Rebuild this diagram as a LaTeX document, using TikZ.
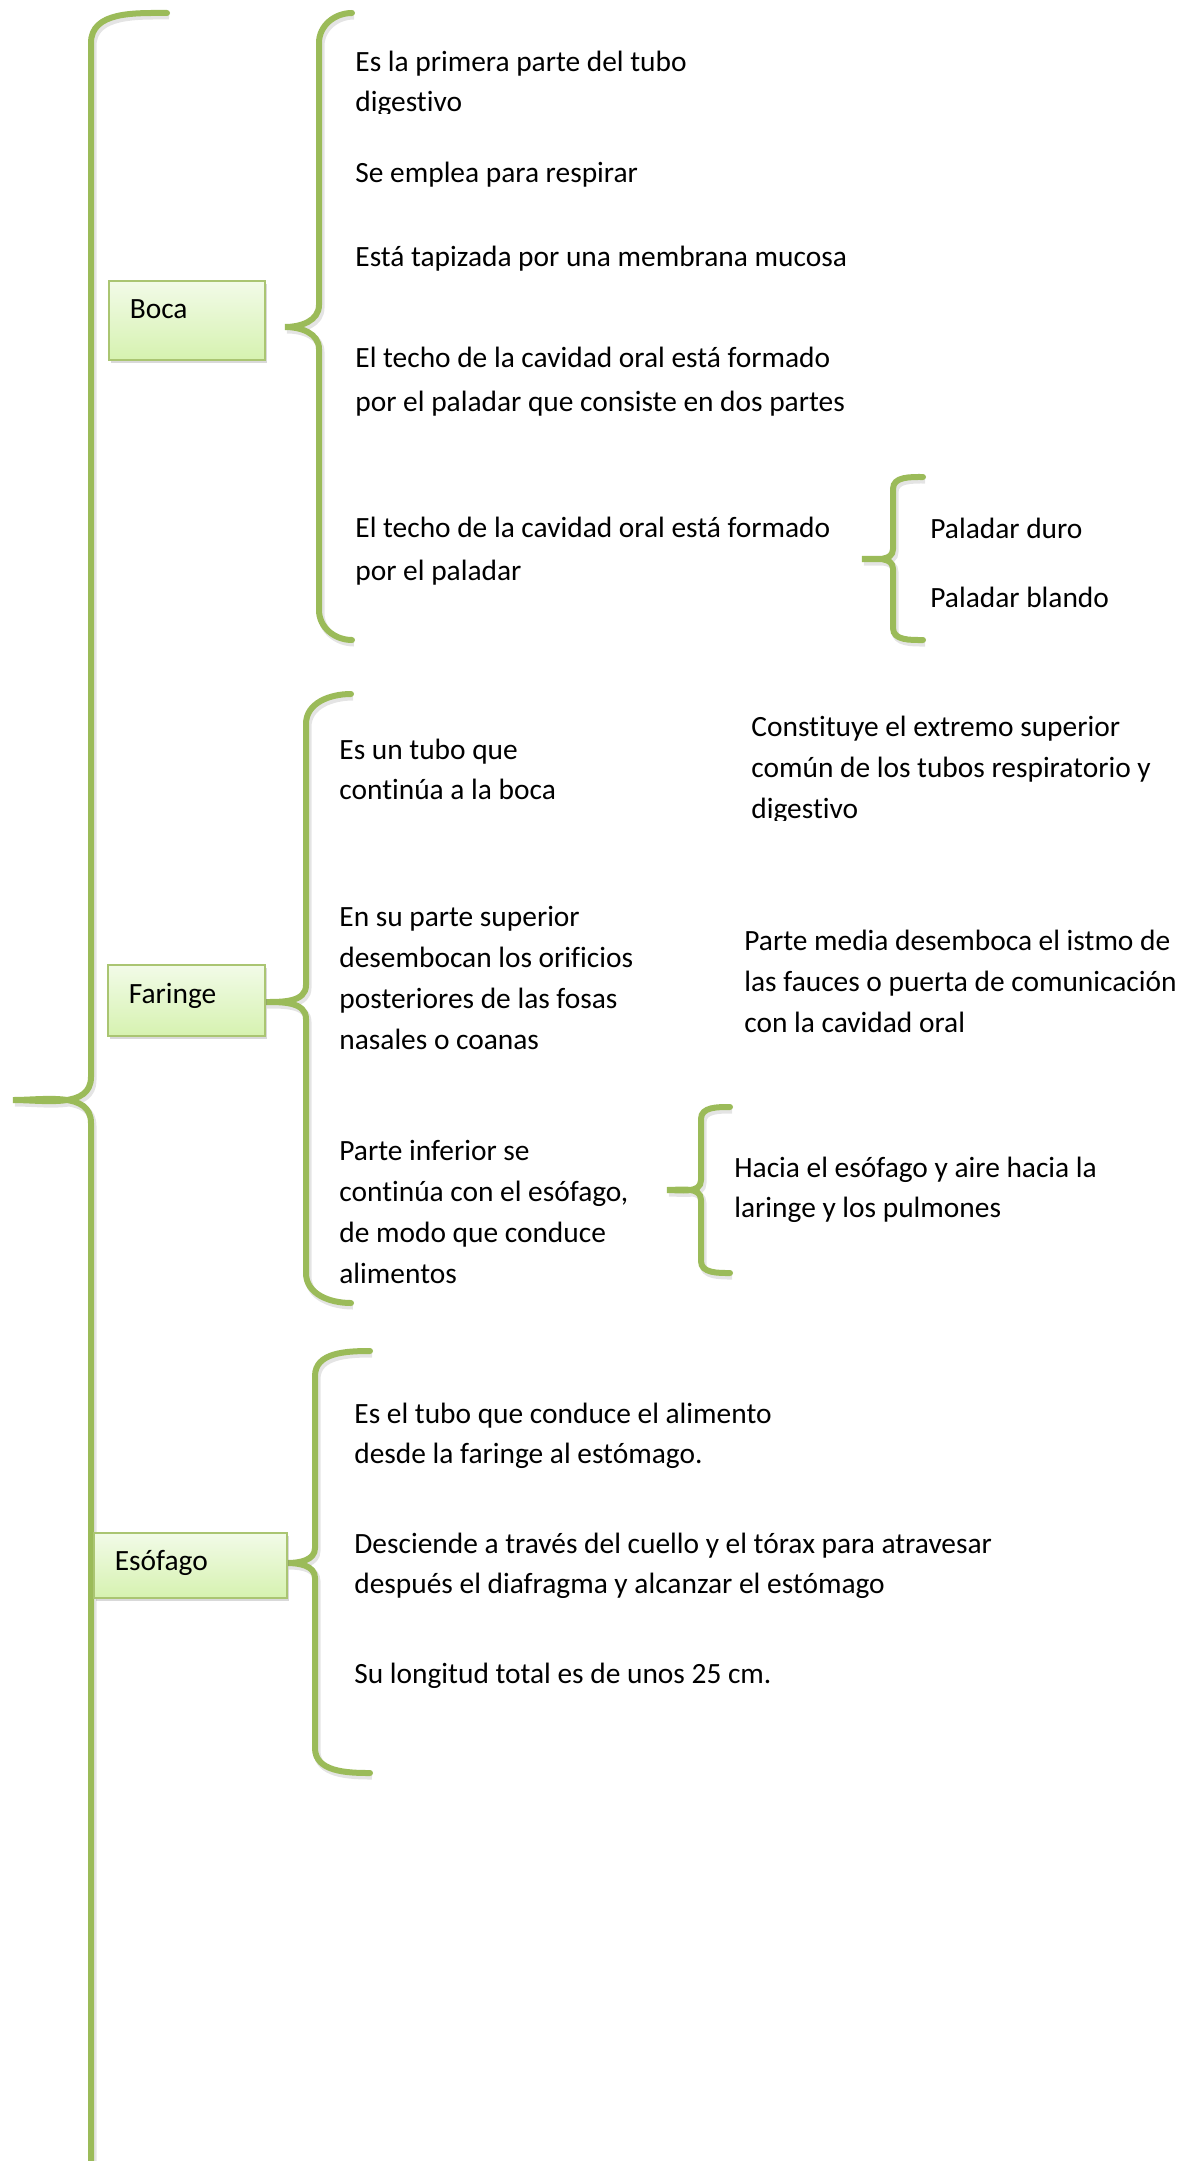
\documentclass[tikz,border=0pt]{standalone}
\usepackage{fontspec}
\setmainfont{Carlito}[Ligatures=NoCommon]
\usetikzlibrary{shadows}
\definecolor{llaveverde}{RGB}{155,187,89}
\definecolor{cajaarriba}{RGB}{242,251,232}
\definecolor{cajaabajo}{RGB}{214,242,176}

\begin{document}
\begin{tikzpicture}[
    x=0.5pt, y=-0.5pt,
    llave/.style={line width=3pt, draw=llaveverde, line cap=round,
        preaction={draw=black!35, opacity=0.3, line width=3.5pt,
                   transform canvas={shift={(1pt,-1.5pt)}}}},
    caja/.style={rectangle, draw=llaveverde!85, line width=0.8pt,
        top color=cajaarriba, bottom color=cajaabajo,
        anchor=north west, inner xsep=10.5pt, inner ysep=0pt, align=left,
        font=\fontsize{14.7}{20.5}\selectfont,
        drop shadow={shadow xshift=1pt, shadow yshift=-1.5pt, opacity=0.3}},
    txt/.style={anchor=base west, inner sep=0pt, align=left,
        font=\fontsize{14.7}{20.5}\selectfont},
    txtancho/.style={txt, font=\fontsize{14.7}{21.5}\selectfont},
    txtcorto/.style={txt, font=\fontsize{14.7}{20}\selectfont}
]
\useasboundingbox (0,0) rectangle (1197,2161);
\clip (0,0) rectangle (1197,2161);

% llaves
\foreach \xe/\xv/\xt/\yt/\ym/\yb/\r/\s in {
    167/91/13/13/1100/2400/30/23,
    352/319/285/13/327/640/30/22,
    923/893/862/477/559/640/12/10,
    351/306/265/694/1002/1303/30/17,
    730/701/667/1107/1190/1273/12/10,
    370/315/287/1351/1563/1773/25/15}
  \draw[llave] (\xe,\yt) to[out=180,in=90] (\xv,\yt+\r) -- (\xv,\ym-\s)
      to[out=-90,in=0] (\xt,\ym) to[out=0,in=90] (\xv,\ym+\s)
      -- (\xv,\yb-\r) to[out=-90,in=180] (\xe,\yb);

% cajas
\node[caja, text width=57pt, text height=19pt, text depth=20.5pt] (boca) at (108,280) {Boca};
\node[caja, text width=57.5pt, text height=19.5pt, text depth=16pt] (faringe) at (107,964) {Faringe};
\node[caja, text width=75.5pt, text height=19pt, text depth=13.5pt] (esofago) at (93,1532) {Esófago};

% boca (anclas en la ultima linea)
\begin{scope}
  \clip (340,30) rectangle (760,114);
  \node[txtcorto] (b1) at (355,112) {Es la primera parte del tubo\\digestivo};
\end{scope}
\node[txt] (b2) at (355,183) {Se emplea para respirar};
\node[txt] (b3) at (355,267) {Está tapizada por una membrana mucosa};
\node[txtancho] (b4) at (355,411) {El techo de la cavidad oral está formado\\por el paladar que consiste en dos partes};
\node[txtancho] (b5) at (355,580) {El techo de la cavidad oral está formado\\por el paladar};
\node[txt] (p1) at (930,538) {Paladar duro};
\node[txt] (p2) at (930,607) {Paladar blando};

% faringe
\node[txtcorto] (f1) at (339,799) {Es un tubo que\\continúa a la boca};
\node[txt] (f2) at (339,1049) {En su parte superior\\desembocan los orificios\\posteriores de las fosas\\nasales o coanas};
\node[txt] (f3) at (339,1283) {Parte inferior se\\continúa con el esófago,\\de modo que conduce\\alimentos};
\begin{scope}
  \clip (740,700) rectangle (1197,820);
  \node[txt] (f4) at (751,818) {Constituye el extremo superior\\común de los tubos respiratorio y\\digestivo};
\end{scope}
\node[txt] (f5) at (744,1032) {Parte media desemboca el istmo de\\las fauces o puerta de comunicación\\con la cavidad oral};
\node[txtcorto] (f6) at (734,1217) {Hacia el esófago y aire hacia la\\laringe y los pulmones};

% esofago
\node[txtcorto] (e1) at (354,1463) {Es el tubo que conduce el alimento\\desde la faringe al estómago.};
\begin{scope}
  \clip (340,1510) rectangle (1100,1597);
  \node[txtcorto] (e2) at (354,1593) {Desciende a través del cuello y el tórax para atravesar\\después el diafragma y alcanzar el estómago};
\end{scope}
\node[txt] (e3) at (354,1683) {Su longitud total es de unos 25 cm.};
\end{tikzpicture}
\end{document}
